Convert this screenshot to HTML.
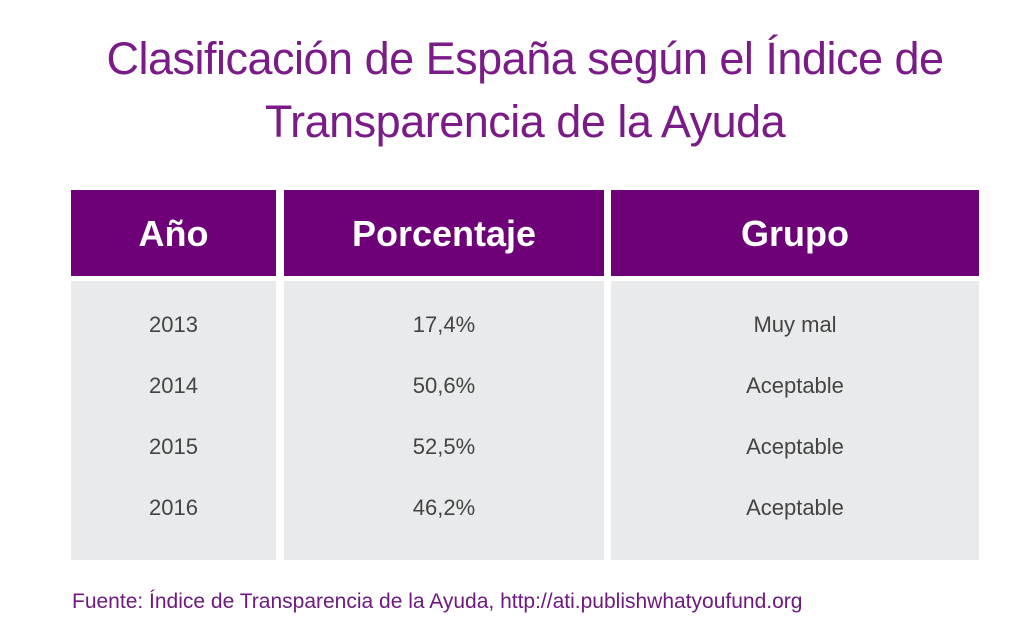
<!DOCTYPE html>
<html><head><meta charset="utf-8"><style>
body{margin:0;width:1034px;height:633px;background:#fff;font-family:"Liberation Sans",sans-serif;position:relative;overflow:hidden}
.t{position:absolute;left:0;width:1050px;text-align:center;color:#7a1b87;font-size:45px;letter-spacing:-0.5px}
.h{position:absolute;top:190px;height:86px;background:#6e0078;color:#fff;font-weight:bold;font-size:36px;text-align:center;line-height:88px}
.b{position:absolute;top:281px;height:279px;background:#e9eaeb}
.c{position:absolute;text-align:center;color:#444;font-size:22px}
.f{position:absolute;left:72px;top:590px;color:#6e1a80;font-size:21px}
</style></head><body>
<div class="t" style="top:33px">Clasificación de España según el Índice de</div>
<div class="t" style="top:96px">Transparencia de la Ayuda</div>
<div class="h" style="left:71px;width:205px">Año</div>
<div class="h" style="left:284px;width:320px">Porcentaje</div>
<div class="h" style="left:611px;width:368px">Grupo</div>
<div class="b" style="left:71px;width:205px"></div>
<div class="b" style="left:284px;width:320px"></div>
<div class="b" style="left:611px;width:368px"></div>
<div id="rows"></div>
<div class="f">Fuente: Índice de Transparencia de la Ayuda, http://ati.publishwhatyoufund.org</div>
<script>
const years=["2013","2014","2015","2016"];
const pcts=["17,4%","50,6%","52,5%","46,2%"];
const groups=["Muy mal","Aceptable","Aceptable","Aceptable"];
const cols=[[71,205],[284,320],[611,368]];
const host=document.getElementById('rows');
years.forEach((y,i)=>{
  [y,pcts[i],groups[i]].forEach((v,j)=>{
    const d=document.createElement('div');
    d.className='c';
    
    
    d.style.left=cols[j][0]+'px';d.style.width=cols[j][1]+'px';
    d.style.top=(312+i*61)+'px';
    d.textContent=v;host.appendChild(d);
  });
});
</script>
</body></html>
